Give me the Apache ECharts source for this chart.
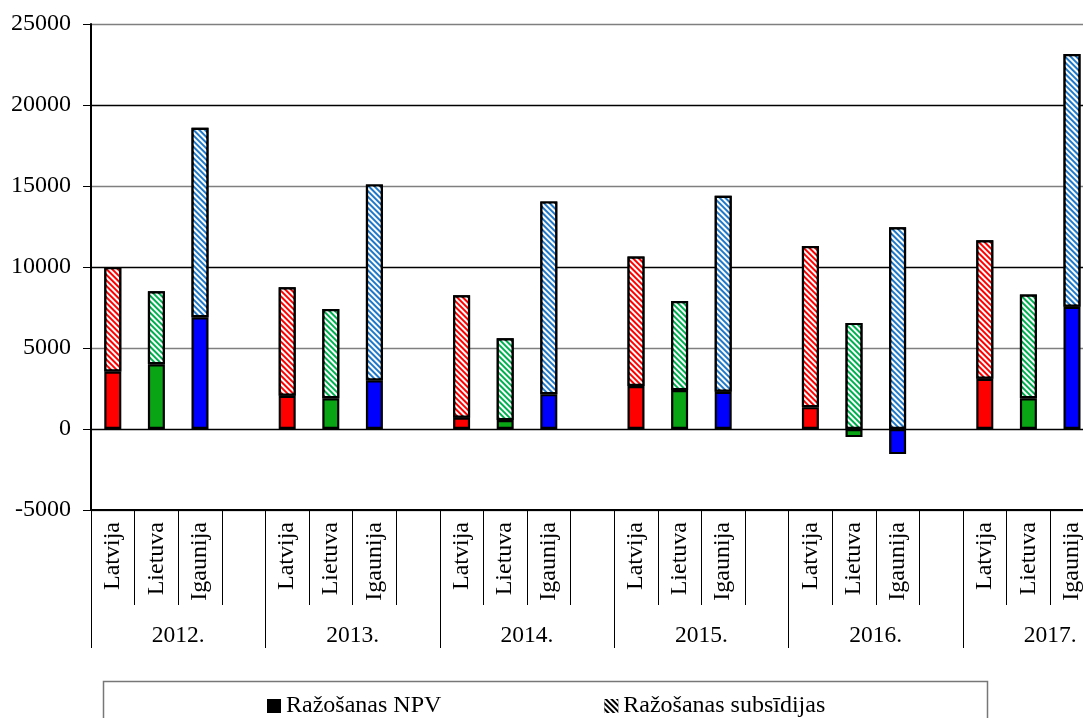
<!DOCTYPE html>
<html>
<head>
<meta charset="utf-8">
<title>Ražošanas NPV un subsīdijas</title>
<script src="https://cdn.jsdelivr.net/npm/echarts@6/dist/echarts.min.js"></script>
<style>
  html, body { margin: 0; padding: 0; background: #fff; }
  #chart { width: 1083px; height: 718px; }
</style>
</head>
<body>
<div id="chart"></div>
<script>
// Years and countries on the two-level category axis
const years = ['2012.', '2013.', '2014.', '2015.', '2016.', '2017.'];
const countries = ['Latvija', 'Lietuva', 'Igaunija'];

// Production NPV per country and year
const npvLatvija  = [3550, 2050, 700, 2650, 1350, 3100];
const npvLietuva  = [4000, 1900, 550, 2400, -500, 1900];
const npvIgaunija = [6900, 3000, 2150, 2300, -1550, 7550];

// Production subsidies per country and year
const subsLatvija  = [6450, 6700, 7550, 8000, 9950, 8550];
const subsLietuva  = [4500, 5500, 5050, 5500, 6550, 6400];
const subsIgaunija = [11700, 12100, 11900, 12100, 12450, 15600];

// Value axis ticks
const yMin = -5000, yMax = 25000, yStep = 5000;

const seriesNames = ['Ražošanas NPV', 'Ražošanas subsīdijas'];

const npvByCountry = [npvLatvija, npvLietuva, npvIgaunija];
const subsByCountry = [subsLatvija, subsLietuva, subsIgaunija];

const solidColors = ['#ff0000', '#0aa514', '#0000ff'];
const hatchColors = ['#ff0000', '#00b050', '#1f78c8'];
const FONT = "'Liberation Serif', 'Times New Roman', serif";

// Diagonal "\" hatching for the subsidy part of each bar
const stripes = {
  symbol: 'rect',
  symbolSize: 1,
  dashArrayX: [1, 0],
  dashArrayY: [1.7, 1.7],
  rotation: Math.PI / 4,
  color: '#ffffff'
};

// Each year gets three country slots plus one empty spacer slot
const slotLabels = [];
const npvData = [];
const subsData = [];
years.forEach((y, yi) => {
  countries.forEach((c, ci) => {
    slotLabels.push(c);
    npvData.push({ value: npvByCountry[ci][yi], itemStyle: { color: solidColors[ci] } });
    subsData.push({ value: subsByCountry[ci][yi], itemStyle: { color: hatchColors[ci] } });
  });
  slotLabels.push('');
  npvData.push('-');
  subsData.push('-');
});

const chart = echarts.init(document.getElementById('chart'), null, { renderer: 'canvas' });

const slotWidth = 43.6;
const gridLeft = 91;
const gridRight = 1083 - gridLeft - slotWidth * slotLabels.length;

chart.setOption({
  animation: false,
  backgroundColor: '#ffffff',
  textStyle: { fontFamily: FONT },
  grid: {
    left: gridLeft,
    right: gridRight,
    top: 24,
    bottom: 718 - 510,
    containLabel: false,
    outerBoundsMode: 'none'
  },
  legend: {
    left: 262,
    top: 689,
    itemWidth: 14,
    itemHeight: 14,
    itemGap: 163,
    selectedMode: false,
    textStyle: { fontFamily: FONT, fontSize: 24, color: '#000' },
    data: [
      { name: seriesNames[0], icon: 'rect', itemStyle: { color: '#000', borderWidth: 0 } },
      { name: seriesNames[1], icon: 'rect', itemStyle: { color: '#000', borderWidth: 0, decal: stripes } }
    ]
  },
  graphic: [
    {
      type: 'rect',
      silent: true,
      shape: { x: 103.5, y: 681.5, width: 884, height: 60 },
      style: { fill: 'none', stroke: '#777', lineWidth: 1.5 }
    }
  ],
  xAxis: [
    {
      type: 'category',
      data: slotLabels,
      position: 'bottom',
      boundaryGap: true,
      axisLine: { onZero: false, lineStyle: { color: '#000', width: 2 } },
      axisTick: { show: true, interval: 0, length: 95, lineStyle: { color: '#000', width: 1 } },
      axisLabel: {
        interval: 0,
        rotate: 90,
        margin: 12,
        fontFamily: FONT,
        fontSize: 24,
        color: '#000'
      },
      splitLine: { show: false }
    },
    {
      type: 'category',
      data: years,
      position: 'bottom',
      boundaryGap: true,
      axisLine: { show: false, onZero: false },
      axisTick: { show: true, interval: 0, length: 138, lineStyle: { color: '#000', width: 1 } },
      axisLabel: {
        interval: 0,
        margin: 114,
        fontFamily: FONT,
        fontSize: 23.5,
        color: '#000'
      },
      splitLine: { show: false }
    }
  ],
  yAxis: {
    type: 'value',
    min: yMin,
    max: yMax,
    interval: yStep,
    axisLine: { show: true, lineStyle: { color: '#000', width: 2 } },
    axisTick: { show: true, length: 8, lineStyle: { color: '#000', width: 1 } },
    axisLabel: {
      margin: 20,
      fontFamily: FONT,
      fontSize: 24,
      color: '#000',
      formatter: (v) => String(v)
    },
    splitLine: { show: true, lineStyle: { color: ['#7f7f7f', '#000'], width: 1.3 } }
  },
  series: [
    {
      name: seriesNames[0],
      type: 'bar',
      stack: 'total',
      xAxisIndex: 0,
      barWidth: 17,
      itemStyle: { borderColor: '#000', borderWidth: 2.2 },
      data: npvData
    },
    {
      name: seriesNames[1],
      type: 'bar',
      stack: 'total',
      xAxisIndex: 0,
      barWidth: 17,
      itemStyle: { borderColor: '#000', borderWidth: 2.2, decal: stripes },
      data: subsData
    }
  ]
});
</script>
</body>
</html>
